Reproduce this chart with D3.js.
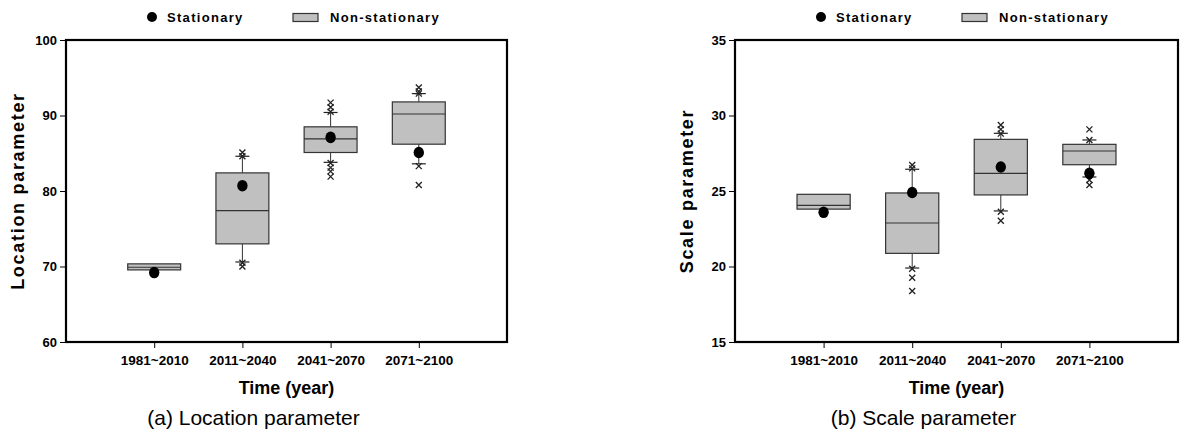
<!DOCTYPE html>
<html>
<head>
<meta charset="utf-8">
<script src="https://cdn.jsdelivr.net/npm/d3@7"></script>
<style>
  body { margin: 0; background: #ffffff; }
  svg { display: block; font-family: "Liberation Sans", Arial, sans-serif; }
</style>
</head>
<body>
<div id="chart"></div>
<script>
// categories shared by both panels
var periods = ['1981~2010', '2011~2040', '2041~2070', '2071~2100'];

// (a) location parameter
var locQ1 = [69.55, 73.0, 85.1, 86.2];
var locMedian = [69.9, 77.4, 86.9, 90.2];
var locQ3 = [70.35, 82.4, 88.5, 91.8];
var locWhiskLow = [null, 70.6, 83.8, 83.6];
var locWhiskHigh = [null, 84.6, 90.4, 92.9];
var locOutliers = [[], [70.0, 70.5, 84.6, 85.1], [81.9, 82.6, 83.1, 83.7, 90.5, 91.1, 91.7], [80.8, 83.3, 92.9, 93.2, 93.7]];
var locStationary = [69.2, 80.7, 87.1, 85.1];
var locTicks = [60, 70, 80, 90, 100];

// (b) scale parameter
var scaleQ1 = [23.8, 20.87, 24.74, 26.74];
var scaleMedian = [24.05, 22.88, 26.17, 27.65];
var scaleQ3 = [24.78, 24.87, 28.42, 28.09];
var scaleWhiskLow = [null, 19.9, 23.68, 25.93];
var scaleWhiskHigh = [null, 26.44, 28.82, 28.38];
var scaleOutliers = [[], [18.38, 19.26, 19.85, 26.5, 26.72], [23.03, 23.63, 28.8, 29.08, 29.37], [25.4, 25.73, 28.38, 29.08]];
var scaleStationary = [23.59, 24.9, 26.59, 26.17];
var scaleTicks = [15, 20, 25, 30, 35];

var W = 1180, H = 432;

var svg = d3.select('#chart').append('svg')
  .attr('width', W)
  .attr('height', H);

function drawPanel(opt) {
  var x = d3.scaleLinear().domain([0, periods.length + 1]).range([opt.left, opt.right]);
  var y = d3.scaleLinear().domain([opt.ticks[0], opt.ticks[opt.ticks.length - 1]]).range([opt.bottom, opt.top]);
  var half = (x(1) - x(0)) * 0.3;
  var cap = 7;

  var g = svg.append('g');

  // axes
  var yAxis = d3.axisLeft(y).tickValues(opt.ticks).tickSize(6).tickPadding(3);
  var ga = g.append('g').attr('transform', 'translate(' + opt.left + ',0)').call(yAxis);
  ga.select('.domain').remove();
  ga.selectAll('text').style('font-size', '13px').style('font-weight', 'bold').attr('fill', '#000');

  var xAxis = d3.axisBottom(x).tickValues(d3.range(1, periods.length + 1))
    .tickFormat(function(d, i) { return periods[i]; })
    .tickSize(6).tickPadding(7);
  var gx = g.append('g').attr('transform', 'translate(0,' + opt.bottom + ')').call(xAxis);
  gx.select('.domain').remove();
  gx.selectAll('text').style('font-size', '13.5px').style('font-weight', 'bold').attr('fill', '#000');

  // boxes
  periods.forEach(function(p, i) {
    var cx = x(i + 1);
    if (opt.whiskLow[i] != null) {
      g.append('line').attr('x1', cx).attr('x2', cx)
        .attr('y1', y(opt.q1[i])).attr('y2', y(opt.whiskLow[i]))
        .attr('stroke', '#333').attr('stroke-width', 1);
      g.append('line').attr('x1', cx - cap).attr('x2', cx + cap)
        .attr('y1', y(opt.whiskLow[i])).attr('y2', y(opt.whiskLow[i]))
        .attr('stroke', '#222').attr('stroke-width', 1.2);
    }
    if (opt.whiskHigh[i] != null) {
      g.append('line').attr('x1', cx).attr('x2', cx)
        .attr('y1', y(opt.q3[i])).attr('y2', y(opt.whiskHigh[i]))
        .attr('stroke', '#333').attr('stroke-width', 1);
      g.append('line').attr('x1', cx - cap).attr('x2', cx + cap)
        .attr('y1', y(opt.whiskHigh[i])).attr('y2', y(opt.whiskHigh[i]))
        .attr('stroke', '#222').attr('stroke-width', 1.2);
    }
    g.append('rect')
      .attr('x', cx - half).attr('width', half * 2)
      .attr('y', y(opt.q3[i])).attr('height', y(opt.q1[i]) - y(opt.q3[i]))
      .attr('fill', '#c0c0c0').attr('stroke', '#333').attr('stroke-width', 1.2);
    g.append('line').attr('x1', cx - half).attr('x2', cx + half)
      .attr('y1', y(opt.median[i])).attr('y2', y(opt.median[i]))
      .attr('stroke', '#333').attr('stroke-width', 1.2);

    // outliers as x marks
    opt.outliers[i].forEach(function(v) {
      var s = 3;
      g.append('path')
        .attr('d', 'M' + (cx - s) + ',' + (y(v) - s) + 'L' + (cx + s) + ',' + (y(v) + s) +
                   'M' + (cx - s) + ',' + (y(v) + s) + 'L' + (cx + s) + ',' + (y(v) - s))
        .attr('stroke', '#222').attr('stroke-width', 1.3).attr('fill', 'none');
    });

    // stationary estimate
    g.append('ellipse').attr('cx', cx).attr('cy', y(opt.stationary[i]))
      .attr('rx', 5.2).attr('ry', 5.8).attr('fill', '#000');
  });

  // frame
  g.append('rect')
    .attr('x', opt.left).attr('y', opt.top)
    .attr('width', opt.right - opt.left).attr('height', opt.bottom - opt.top)
    .attr('fill', 'none').attr('stroke', '#000').attr('stroke-width', 2.2);

  // titles
  g.append('text')
    .attr('transform', 'translate(' + (opt.left - 48) + ',' + ((opt.top + opt.bottom) / 2) + ') rotate(-90)')
    .attr('text-anchor', 'middle').attr('dy', '0.35em')
    .style('font-size', '18px').style('font-weight', 'bold').style('letter-spacing', '1.7px')
    .text(opt.yTitle);

  var mid = (x(1) + x(periods.length)) / 2;
  g.append('text')
    .attr('x', mid).attr('y', 394)
    .attr('text-anchor', 'middle')
    .style('font-size', '18px').style('font-weight', 'bold')
    .text('Time (year)');

  g.append('text')
    .attr('x', mid - 33).attr('y', 425)
    .attr('text-anchor', 'middle')
    .style('font-size', '21px')
    .text(opt.caption);

  // legend
  var lx = opt.left + 86;
  g.append('circle').attr('cx', lx).attr('cy', 17).attr('r', 5).attr('fill', '#000');
  g.append('text').attr('x', lx + 15).attr('y', 22)
    .style('font-size', '13px').style('font-weight', 'bold').style('letter-spacing', '1.3px')
    .text('Stationary');
  g.append('rect').attr('x', lx + 141).attr('y', 13.5).attr('width', 25).attr('height', 8)
    .attr('fill', '#c0c0c0').attr('stroke', '#333').attr('stroke-width', 1.2);
  g.append('text').attr('x', lx + 178).attr('y', 22)
    .style('font-size', '13px').style('font-weight', 'bold').style('letter-spacing', '1.3px')
    .text('Non-stationary');
}

drawPanel({
  left: 66, right: 507, top: 40, bottom: 342,
  ticks: locTicks,
  q1: locQ1, median: locMedian, q3: locQ3,
  whiskLow: locWhiskLow, whiskHigh: locWhiskHigh,
  outliers: locOutliers, stationary: locStationary,
  yTitle: 'Location parameter',
  caption: '(a) Location parameter'
});

drawPanel({
  left: 735, right: 1178, top: 40, bottom: 342,
  ticks: scaleTicks,
  q1: scaleQ1, median: scaleMedian, q3: scaleQ3,
  whiskLow: scaleWhiskLow, whiskHigh: scaleWhiskHigh,
  outliers: scaleOutliers, stationary: scaleStationary,
  yTitle: 'Scale parameter',
  caption: '(b) Scale parameter'
});
</script>
</body>
</html>
